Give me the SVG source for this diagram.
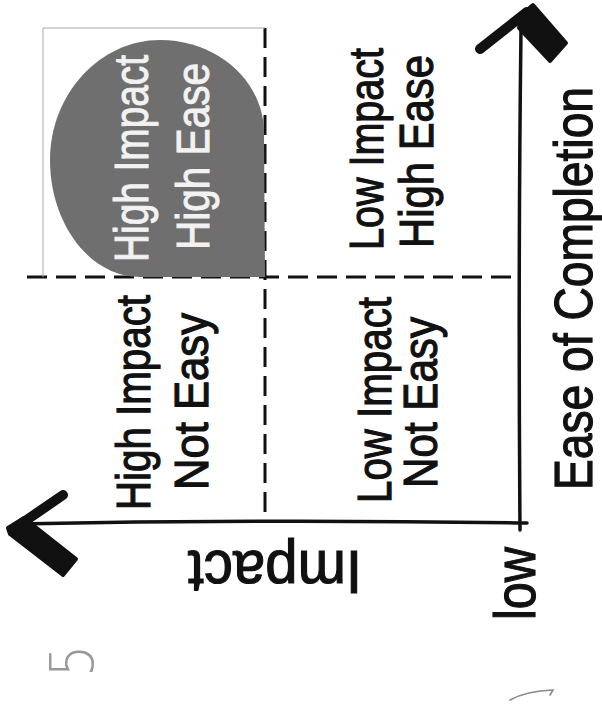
<svg xmlns="http://www.w3.org/2000/svg" width="602" height="706" viewBox="0 0 602 706">
<style>
.lbl{font-family:"Liberation Sans","DejaVu Sans",sans-serif;fill:#111;stroke:#111;stroke-width:1.2;}
.inv{font-family:"Liberation Sans","DejaVu Sans",sans-serif;fill:#f2f2f2;stroke:#f2f2f2;stroke-width:1;}
.axis{fill:none;stroke:#111;stroke-width:3.5;stroke-linecap:round;}
.dash{fill:none;stroke:#111;stroke-width:3;stroke-dasharray:20 9;}
.head{fill:#111;stroke:#111;stroke-linejoin:round;}
.arm{fill:none;stroke:#111;stroke-width:10;stroke-linecap:round;}
</style>
<rect width="602" height="706" fill="#fff"/>
<g id="connectors">
  <path class="dash" d="M265,28 L265,523"/>
  <path class="dash" d="M27,277 L519,277"/>
  <path class="axis" d="M521,30 Q518,270 520,530"/>
  <path class="axis" d="M16,524 Q270,519 527,523"/>
  <path class="arm" d="M527,12 L480,49"/>
  <polygon class="head" stroke-width="4" points="522,14 533,5 566,43 550,61 519,28"/>
  <path class="arm" d="M15,528 L63,495"/>
  <polygon class="head" stroke-width="4" points="8,528 24,518 76,559 63,575 10,534"/>
</g>
<g id="node-high-high">
  <path d="M43,277 L43,28 L265,28" fill="none" stroke="#aaa" stroke-width="1"/>
  <path d="M265,277 L140,277 C90,277 50,224 50,160 C50,94 100,40 160,40 C217,40 262,80 264,130 L265,277 Z" fill="#6f6f6f"/>
  <text class="inv" font-size="48" transform="translate(148,262) rotate(-90)" textLength="207" lengthAdjust="spacingAndGlyphs">High Impact</text>
  <text class="inv" font-size="46" transform="translate(209,250) rotate(-90)" textLength="187" lengthAdjust="spacingAndGlyphs">High Ease</text>
</g>
<g id="node-low-high">
  <text class="lbl" font-size="48" transform="translate(383,250) rotate(-90)" textLength="202" lengthAdjust="spacingAndGlyphs">Low Impact</text>
  <text class="lbl" font-size="48" transform="translate(433,248) rotate(-90)" textLength="193" lengthAdjust="spacingAndGlyphs">High Ease</text>
</g>
<g id="node-high-noteasy">
  <text class="lbl" font-size="48" transform="translate(150,510) rotate(-90)" textLength="215" lengthAdjust="spacingAndGlyphs">High Impact</text>
  <text class="lbl" font-size="48" transform="translate(208,490) rotate(-90)" textLength="177" lengthAdjust="spacingAndGlyphs">Not Easy</text>
</g>
<g id="node-low-noteasy">
  <text class="lbl" font-size="48" transform="translate(391,503) rotate(-90)" textLength="206" lengthAdjust="spacingAndGlyphs">Low Impact</text>
  <text class="lbl" font-size="48" transform="translate(437,488) rotate(-90)" textLength="171" lengthAdjust="spacingAndGlyphs">Not Easy</text>
</g>
<g id="axis-labels">
  <text class="lbl" font-size="54" stroke-width="1.6" transform="translate(592,490) rotate(-90)" textLength="403" lengthAdjust="spacingAndGlyphs">Ease of Completion</text>
  <text class="lbl" font-size="62" stroke-width="1.6" transform="translate(362,551) rotate(180)" textLength="174" lengthAdjust="spacingAndGlyphs">Impact</text>
  <text class="lbl" font-size="58" stroke-width="1.6" transform="translate(535,620) rotate(-90)" textLength="73" lengthAdjust="spacingAndGlyphs">low</text>
</g>
<g id="marks">
  <text font-family="DejaVu Sans, sans-serif" font-weight="200" font-size="60" fill="#999" transform="translate(93,677) rotate(-90)" textLength="32" lengthAdjust="spacingAndGlyphs">5</text>
  <path d="M510,700 Q526,691 553,690 L550,695" fill="none" stroke="#888" stroke-width="1.6" stroke-linecap="round"/>
</g>
</svg>
